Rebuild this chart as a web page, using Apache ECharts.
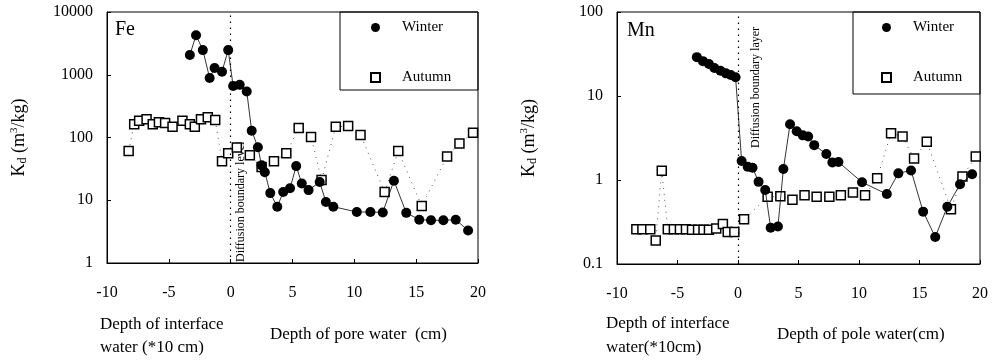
<!DOCTYPE html>
<html>
<head>
<meta charset="utf-8">
<script src="https://cdn.jsdelivr.net/npm/echarts@6/dist/echarts.min.js"></script>
<style>
  html, body { margin: 0; padding: 0; background: #fff; }
  #chart { width: 994px; height: 362px; }
</style>
</head>
<body>
<div id="chart"></div>
<script>
// Fe - winter (filled circles)
const feWinterX = [-3.3, -2.8, -2.25, -1.7, -1.3, -0.7, -0.2, 0.2, 0.73, 1.3, 1.7, 2.2, 2.5, 2.76, 3.2, 3.77, 4.25, 4.8, 5.3, 5.75, 6.3, 7.2, 7.7, 8.3, 10.2, 11.3, 12.3, 13.2, 14.2, 15.25, 16.2, 17.2, 18.2, 19.2];
const feWinterY = [2060, 4270, 2470, 890, 1280, 1120, 2470, 660, 690, 540, 128, 70, 36, 28, 13, 7.9, 13.5, 15.5, 35, 18.5, 14.5, 19.5, 9.4, 7.9, 6.5, 6.5, 6.4, 20.5, 6.3, 4.9, 4.8, 4.8, 4.9, 3.3];
// Fe - autumn (open squares)
const feAutumnX = [-8.25, -7.8, -7.4, -6.8, -6.3, -5.8, -5.3, -4.7, -3.9, -3.3, -2.9, -2.4, -1.85, -1.25, -0.7, -0.2, 0.5, 1.55, 2.5, 3.5, 4.5, 5.5, 6.5, 7.35, 8.5, 9.5, 10.5, 12.45, 13.55, 15.45, 17.5, 18.5, 19.6];
const feAutumnY = [61, 163, 185, 195, 163, 175, 170, 148, 185, 163, 148, 195, 210, 190, 42, 56, 69, 52, 34, 42, 56, 142, 102, 21, 148, 152, 110, 13.5, 61, 8.1, 50, 80, 119];

// Mn - winter
const mnWinterX = [-3.4, -2.9, -2.4, -1.95, -1.45, -1.0, -0.6, -0.2, 0.3, 0.8, 1.2, 1.7, 2.25, 2.7, 3.3, 3.75, 4.3, 4.85, 5.35, 5.8, 6.3, 7.3, 7.8, 8.3, 10.25, 12.3, 13.25, 14.3, 15.3, 16.3, 17.3, 18.35, 19.35];
const mnWinterY = [29, 26, 24, 21.5, 20, 18.6, 17.8, 16.7, 1.68, 1.44, 1.4, 0.95, 0.76, 0.27, 0.28, 1.35, 4.6, 3.8, 3.4, 3.3, 2.6, 2.04, 1.62, 1.64, 0.94, 0.68, 1.2, 1.3, 0.42, 0.21, 0.48, 0.89, 1.17];
// Mn - autumn
const mnAutumnX = [-8.4, -7.9, -7.25, -6.8, -6.3, -5.8, -5.3, -4.8, -4.3, -3.8, -3.3, -2.85, -2.4, -1.8, -1.25, -0.85, -0.3, 0.5, 2.45, 3.5, 4.5, 5.5, 6.5, 7.55, 8.5, 9.5, 10.5, 11.5, 12.65, 13.6, 14.55, 15.6, 17.6, 18.55, 19.65];
const mnAutumnY = [0.26, 0.26, 0.26, 0.19, 1.29, 0.26, 0.26, 0.26, 0.26, 0.255, 0.255, 0.255, 0.255, 0.265, 0.3, 0.24, 0.24, 0.34, 0.63, 0.64, 0.58, 0.66, 0.63, 0.63, 0.66, 0.71, 0.66, 1.05, 3.6, 3.3, 1.8, 2.86, 0.45, 1.1, 1.9];

const xTicks = { min: -10, max: 20, interval: 5 };
const seriesNames = ['Winter', 'Autumn'];

const pair = (xs, ys) => xs.map((x, i) => [x, ys[i]]);
const serif = '"Times New Roman", "Liberation Serif", serif';

const chart = echarts.init(document.getElementById('chart'));

const xAxisBase = (gridIndex) => ({
  type: 'value',
  gridIndex: gridIndex,
  min: xTicks.min,
  max: xTicks.max,
  interval: xTicks.interval,
  axisLine: { show: true, onZero: false, lineStyle: { color: '#000', width: 1 } },
  axisTick: { show: true, inside: true, length: 4, lineStyle: { color: '#000' } },
  axisLabel: { color: '#000', fontFamily: serif, fontSize: 16, margin: 22 },
  splitLine: { show: false }
});

const yName = '{k|K}{d|d}{k| (m}{s|3}{k|/kg)}';
const yRich = {
  k: { fontFamily: serif, fontSize: 18, color: '#000' },
  d: { fontFamily: serif, fontSize: 12, color: '#000', verticalAlign: 'bottom', padding: [8, 0, 0, 0] },
  s: { fontFamily: serif, fontSize: 11, color: '#000', verticalAlign: 'top', padding: [0, 0, 8, 0] }
};

const yAxisBase = (gridIndex, min, max) => ({
  type: 'log',
  logBase: 10,
  gridIndex: gridIndex,
  min: min,
  max: max,
  name: yName,
  nameLocation: 'middle',
  nameGap: 78,
  nameRotate: 90,
  nameTextStyle: { rich: yRich },
  // keep the axis on the left edge (x range crosses 0)
  axisLine: { show: true, onZero: false, lineStyle: { color: '#000', width: 1 } },
  axisTick: { show: true, inside: true, length: 4, lineStyle: { color: '#000' } },
  axisLabel: {
    color: '#000', fontFamily: serif, fontSize: 16, margin: 14,
    formatter: (v) => String(v)
  },
  splitLine: { show: false },
  minorTick: { show: false }
});

// dotted vertical line at depth 0 (water / sediment interface)
const boundaryLine = {
  silent: true,
  symbol: ['none', 'none'],
  label: { show: false },
  emphasis: { disabled: true },
  lineStyle: { color: '#000', type: [1.5, 4.5], width: 1.2 },
  data: [{ xAxis: 0 }]
};

const winterSeries = (idx, data) => ({
  name: seriesNames[0],
  type: 'line',
  xAxisIndex: idx,
  yAxisIndex: idx,
  data: data,
  symbol: 'circle',
  symbolSize: 10,
  itemStyle: { color: '#000' },
  lineStyle: { color: '#000', width: 0.8 },
  markLine: boundaryLine,
  z: 3
});

const autumnSeries = (idx, data) => ({
  name: seriesNames[1],
  type: 'line',
  xAxisIndex: idx,
  yAxisIndex: idx,
  data: data,
  symbol: 'rect',
  symbolSize: 9,
  itemStyle: { color: '#fff', borderColor: '#000', borderWidth: 1.5 },
  lineStyle: { color: '#555', width: 1, type: [1, 5] },
  z: 2
});

const legendBase = (left) => ({
  orient: 'vertical',
  left: left,
  top: 15,
  itemGap: 35,
  itemWidth: 9,
  itemHeight: 9,
  selectedMode: false,
  data: [
    { name: 'Winter', icon: 'circle' },
    { name: 'Autumn', icon: 'rect' }
  ],
  textStyle: { fontFamily: serif, fontSize: 15, color: '#000', padding: [0, 0, 0, 17] }
});

const txt = (x, y, text, size, extra) => Object.assign({
  type: 'text',
  x: x,
  y: y,
  style: { text: text, fontFamily: serif, fontSize: size, fill: '#000' }
}, extra || {});

const option = {
  animation: false,
  backgroundColor: '#fff',
  grid: [
    { left: 107, right: 516, top: 12, bottom: 99, show: true, borderColor: '#000', borderWidth: 1 },
    { left: 617, right: 14, top: 12, bottom: 98, show: true, borderColor: '#000', borderWidth: 1 }
  ],
  xAxis: [xAxisBase(0), xAxisBase(1)],
  yAxis: [yAxisBase(0, 1, 10000), yAxisBase(1, 0.1, 100)],
  legend: [legendBase(365), legendBase(876)],
  series: [
    winterSeries(0, pair(feWinterX, feWinterY)),
    autumnSeries(0, pair(feAutumnX, feAutumnY)),
    winterSeries(1, pair(mnWinterX, mnWinterY)),
    autumnSeries(1, pair(mnAutumnX, mnAutumnY))
  ],
  graphic: [
    // legend frames
    { type: 'rect', shape: { x: 340, y: 12, width: 138, height: 78 }, style: { fill: 'none', stroke: '#000', lineWidth: 1 }, z: 1 },
    { type: 'rect', shape: { x: 853, y: 12, width: 127, height: 82 }, style: { fill: 'none', stroke: '#000', lineWidth: 1 }, z: 1 },
    // panel labels
    txt(115, 20, 'Fe', 20),
    txt(627, 21, 'Mn', 20),
    // boundary annotations
    txt(241, 262, 'Diffusion boundary level', 12, { rotation: Math.PI / 2, style: { text: 'Diffusion boundary level', fontFamily: serif, fontSize: 12, fill: '#000', textVerticalAlign: 'middle' } }),
    txt(756, 148, 'Diffusion boundary layer', 12, { rotation: Math.PI / 2, style: { text: 'Diffusion boundary layer', fontFamily: serif, fontSize: 12, fill: '#000', textVerticalAlign: 'middle' } }),
    // x axis captions
    txt(100, 316, 'Depth of interface', 17),
    txt(100, 339, 'water (*10 cm)', 17),
    txt(270, 326, 'Depth of pore water  (cm)', 17),
    txt(606, 315, 'Depth of interface', 17),
    txt(606, 339, 'water(*10cm)', 17),
    txt(777, 326, 'Depth of pole water(cm)', 17)
  ]
};

chart.setOption(option);
</script>
</body>
</html>
